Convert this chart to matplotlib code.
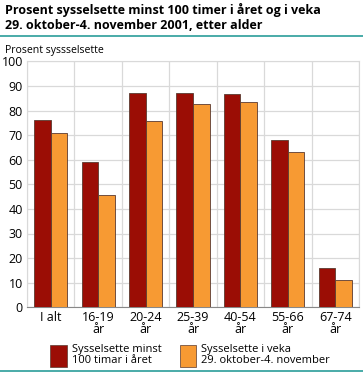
import numpy as np
import matplotlib.pyplot as plt
from matplotlib.lines import Line2D
from matplotlib.patches import Rectangle

# Data
categories = ['I alt', '16-19\når', '20-24\når', '25-39\når', '40-54\når', '55-66\når', '67-74\når']
minst_100 = [76, 59, 87, 87, 86.7, 68, 16]
i_veka = [71, 45.8, 75.6, 82.6, 83.5, 63.2, 11.1]
series_names = ['Sysselsette minst\n100 timar i året', 'Sysselsette i veka\n29. oktober-4. november']

dark_red = '#9b0d05'
orange = '#f79a33'
teal = '#2a9d9a'

plt.rcParams['font.family'] = ['Open Sans', 'DejaVu Sans']

W, H = 363, 373
fig = plt.figure(figsize=(W / 100, H / 100), dpi=100)
ax = fig.add_axes([27 / W, 1 - 307.3 / H, 332 / W, 246 / H])

x = np.arange(len(categories))
w = 0.35
ax.bar(x - w / 2, minst_100, w, color=dark_red, edgecolor='#5a3a30', linewidth=0.6, zorder=3)
ax.bar(x + w / 2, i_veka, w, color=orange, edgecolor='#5a3a30', linewidth=0.6, zorder=3)

ax.set_xlim(-0.5, len(categories) - 0.5)
ax.set_ylim(0, 100)
ax.set_yticks(range(0, 101, 10))
ax.set_xticks(x)
ax.set_xticklabels(categories, fontsize=9, linespacing=0.85)
ax.tick_params(axis='y', labelsize=9, length=0, pad=3)
ax.tick_params(axis='x', length=0, pad=3)

ax.set_xticks(np.arange(-0.5, len(categories), 1), minor=True)
ax.tick_params(axis='x', which='minor', length=0)
ax.grid(axis='y', color='#d9d9d9', linewidth=0.9, zorder=0)
ax.grid(axis='x', which='minor', color='#d9d9d9', linewidth=0.9, zorder=0)
for s in ['top', 'right', 'left']:
    ax.spines[s].set_color('#d9d9d9')
ax.spines['bottom'].set_color('#888888')

# Title and axis label
fig.text(5 / W, 1 - 3 / H, 'Prosent sysselsette minst 100 timer i året og i veka\n29. oktober-4. november 2001, etter alder',
         fontsize=9.0, fontweight='bold', va='top', ha='left', linespacing=1.2)
fig.add_artist(Line2D([0, 1], [1 - 36 / H, 1 - 36 / H], color=teal, linewidth=1.2))
fig.text(5 / W, 1 - 50 / H, 'Prosent syssselsette', fontsize=7.6, va='center', ha='left')

# Legend
legend_x = [50.5, 180]
for lx, name, col in zip(legend_x, series_names, [dark_red, orange]):
    fig.add_artist(Rectangle((lx / W, 1 - 367 / H), 16 / W, 22 / H, transform=fig.transFigure,
                             facecolor=col, edgecolor='#5a3a30', linewidth=0.5))
    fig.text((lx + 21) / W, 1 - 355 / H, name, fontsize=8, va='center', ha='left', linespacing=1.1)
fig.add_artist(Line2D([0, 1], [1 - 371 / H, 1 - 371 / H], color=teal, linewidth=1.2))

fig.savefig('out.png', dpi=100)
